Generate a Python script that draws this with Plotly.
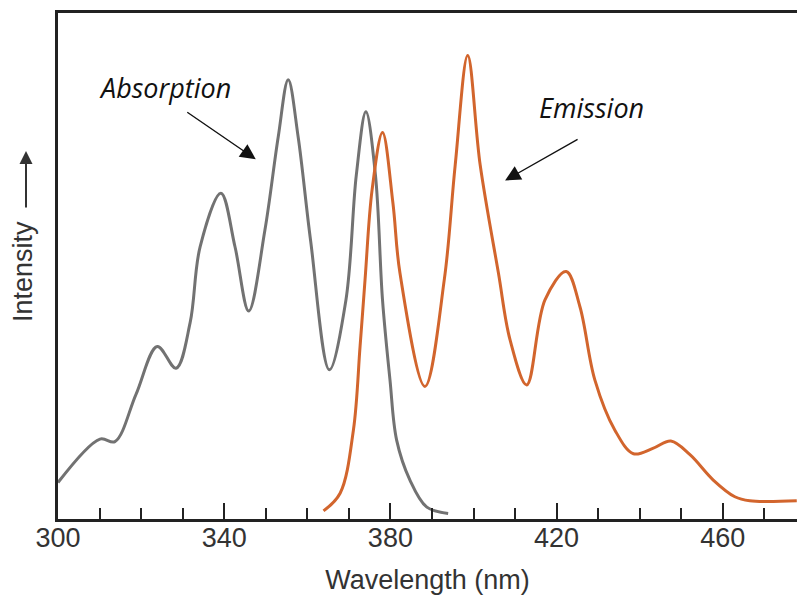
import plotly.graph_objects as go

# Absorption spectrum (gray)
abs_wl = [300, 310.1, 313.7, 318.8, 323.9, 328.4, 331.8, 334.2, 339.2,
          342.6, 345.9, 349.8, 353.0, 355.4, 357.8, 360.8, 365.3, 369.3, 371.8,
          374.1, 376.4, 378.1, 379.9, 381.5, 384.7, 388.7, 393.9]
abs_int = [7.2, 15.8, 15.3, 24.7, 34.1, 29.8, 38.8, 53.8, 64.4,
           53.8, 41.1, 57.1, 75.5, 86.8, 75.5, 55.0, 29.5, 43.3, 68.0,
           80.5, 68.0, 43.3, 27.5, 15.6, 7.7, 2.4, 1.1]

# Emission spectrum (orange)
em_wl = [363.9, 367.9, 371.1, 372.7, 373.9, 375.6, 378.1, 380.6, 382.3, 388.3,
         393.0, 395.6, 398.6, 401.6, 406.0, 408.8, 412.8, 417.2, 422.3, 425.6,
         429.2, 434.0, 438.5, 443.3, 447.5, 452.1, 457.7, 462.9, 466.5, 477.8]
em_int = [1.6, 5.1, 17.6, 34.1, 47.3, 65.1, 76.4, 62.5, 48.6, 26.2,
          47.5, 70.0, 91.6, 70.0, 48.6, 35.4, 26.5, 43.3, 48.9, 42.0,
          27.5, 17.6, 12.9, 14.0, 15.4, 12.7, 7.7, 4.4, 3.6, 3.6]

tick_vals = [300, 340, 380, 420, 460]
tick_text = ["300", "340", "380", "420", "460"]

GRAY = "#727272"
ORANGE = "#d2652d"

fig = go.Figure()
fig.add_trace(go.Scatter(x=abs_wl, y=abs_int, mode="lines",
                         line=dict(color=GRAY, width=3, shape="spline", smoothing=1.0),
                         showlegend=False, hoverinfo="skip"))
fig.add_trace(go.Scatter(x=em_wl, y=em_int, mode="lines",
                         line=dict(color=ORANGE, width=3, shape="spline", smoothing=1.0),
                         showlegend=False, hoverinfo="skip"))

W, H = 797, 601
L, R, T, B = 58, 0, 13, 82
pw, ph = W - L - R, H - T - B

def px_to_paper(px, py):
    return (px - L) / pw, (H - B - py) / ph

annots = []
# Absorption label and arrow
annots.append(dict(x=325.7, y=85.2, xref="x", yref="y", text="<i>Absorption</i>",
                   showarrow=False, font=dict(family="Open Sans", size=27, color="#111")))
annots.append(dict(x=347.6, y=71.1, xref="x", yref="y", text="", showarrow=True,
                   ax=-70, ay=-48, arrowhead=2, arrowsize=2.2, arrowwidth=1.4,
                   arrowcolor="#111"))
# Emission label and arrow
annots.append(dict(x=428.5, y=81.3, xref="x", yref="y", text="<i>Emission</i>",
                   showarrow=False, font=dict(family="Open Sans", size=27, color="#111")))
annots.append(dict(x=407.6, y=66.9, xref="x", yref="y", text="", showarrow=True,
                   ax=74, ay=-42, arrowhead=2, arrowsize=2.2, arrowwidth=1.4,
                   arrowcolor="#111"))
# Y title: "Intensity" + upward arrow
tx, ty = px_to_paper(23, 272)
annots.append(dict(x=tx, y=ty, xref="paper", yref="paper", text="Intensity",
                   textangle=-90, showarrow=False, xanchor="center", yanchor="middle",
                   font=dict(family="Liberation Sans, Arial", size=27, color="#333")))
ax_, ay_ = px_to_paper(26, 151)
annots.append(dict(x=ax_, y=ay_, xref="paper", yref="paper", text="", showarrow=True,
                   ax=0, ay=58, arrowhead=2, arrowsize=1.3, arrowwidth=2,
                   arrowcolor="#333"))

fig.update_layout(
    width=W, height=H,
    margin=dict(l=L, r=R, t=T, b=B, pad=0),
    paper_bgcolor="white", plot_bgcolor="white",
    annotations=annots,
    xaxis=dict(range=[300, 300 + pw / 4.155], tickvals=tick_vals, ticktext=tick_text,
               ticks="inside", ticklen=16, tickwidth=2, tickcolor="#222",
               minor=dict(tickvals=list(range(310, 480, 10)), ticks="inside",
                          ticklen=11, tickwidth=2, tickcolor="#222"),
               showline=True, linecolor="#222", linewidth=2.5, mirror=True,
               showgrid=False, zeroline=False, ticklabelstandoff=-7,
               tickfont=dict(family="Liberation Sans, Arial", size=27, color="#333"),
               title=dict(text="Wavelength (nm)", standoff=18,
                          font=dict(family="Liberation Sans, Arial", size=27, color="#333"))),
    yaxis=dict(range=[0, 100], showticklabels=False, ticks="", showgrid=False,
               zeroline=False, showline=True, linecolor="#222", linewidth=2.5),
)

fig.write_html("out.html")
